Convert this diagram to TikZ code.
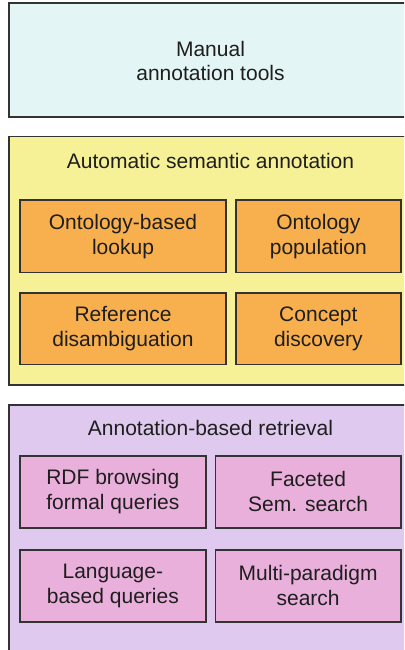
\documentclass[tikz,border=0pt]{standalone}
\usepackage{fontspec}
\setmainfont{Liberation Sans}
\definecolor{bordergray}{HTML}{333333}
\definecolor{textgray}{HTML}{1E1E1E}
\definecolor{cyanfill}{HTML}{E3F6F5}
\definecolor{yellowfill}{HTML}{F6F197}
\definecolor{orangefill}{HTML}{F8B04F}
\definecolor{lavfill}{HTML}{DFC9EE}
\definecolor{pinkfill}{HTML}{EAB0DC}
\begin{document}
\begin{tikzpicture}[x=1bp,y=-1bp,
  outerbox/.style={draw=bordergray, line width=1.6bp, rectangle, inner sep=0pt, text=textgray},
  innerbox/.style={draw=bordergray, line width=1.6bp, rectangle, inner sep=0pt, align=center,
     text=textgray, font=\fontsize{21bp}{25bp}\selectfont},
  titletext/.style={anchor=base, inner sep=0pt, text=textgray, font=\fontsize{21bp}{25bp}\selectfont},
]
\useasboundingbox (0,0) rectangle (404,650);
\clip (0,0) rectangle (404,650);
\fill[white] (0,0) rectangle (404,650);

% Manual annotation tools (extends past the right edge)
\node[outerbox, fill=cyanfill, minimum width=420.7bp, minimum height=113.4bp] (manual) at (219.65,60) {};
\node[inner sep=0pt, align=center, text=textgray, font=\fontsize{21bp}{24bp}\selectfont] (manualtext) at (210.5,61) {Manual\\annotation tools};

% Automatic semantic annotation
\node[outerbox, fill=yellowfill, minimum width=420.7bp, minimum height=248.5bp] (auto) at (219.65,260.75) {};
\node[titletext] (autotitle) at (210.5,168.3) {Automatic semantic annotation};
\node[innerbox, fill=orangefill, minimum width=206bp, minimum height=72.3bp] (onto) at (123,236.15) {Ontology-based\\lookup};
\node[innerbox, fill=orangefill, minimum width=164.7bp, minimum height=72.3bp] (pop) at (318.35,236.15) {Ontology\\population};
\node[innerbox, fill=orangefill, minimum width=206bp, minimum height=71.6bp] (ref) at (123,328.5) {Reference\\disambiguation};
\node[innerbox, fill=orangefill, minimum width=164.7bp, minimum height=71.6bp] (concept) at (318.35,328.5) {Concept\\discovery};

% Annotation-based retrieval
\node[outerbox, fill=lavfill, minimum width=420.7bp, minimum height=260bp] (retr) at (219.65,535) {};
\node[titletext] (retrtitle) at (210.5,435.7) {Annotation-based retrieval};
\node[innerbox, fill=pinkfill, minimum width=185.7bp, minimum height=71.7bp] (rdf) at (112.85,491.85) {RDF browsing\\formal queries};
\node[innerbox, fill=pinkfill, minimum width=185.7bp, minimum height=71.7bp] (facet) at (308.15,491.85) {Faceted\\Sem. search};
\node[innerbox, fill=pinkfill, minimum width=185.7bp, minimum height=71.7bp] (lang) at (112.85,585.85) {Language-\\based queries};
\node[innerbox, fill=pinkfill, minimum width=185.7bp, minimum height=71.7bp] (multi) at (308.15,585.85) {Multi-paradigm\\search};
\end{tikzpicture}
\end{document}
